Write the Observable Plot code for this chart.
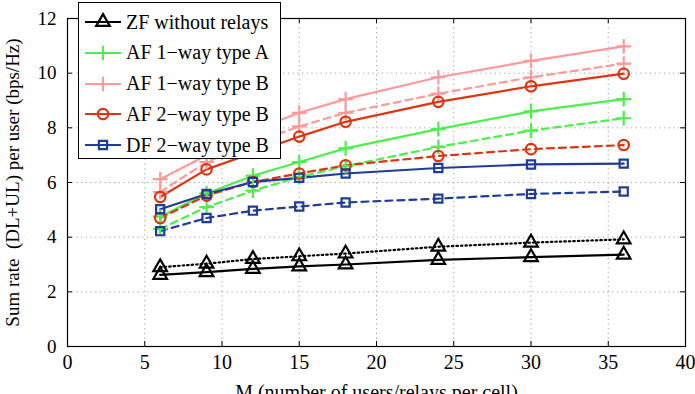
<!DOCTYPE html>
<html>
<head>
<meta charset="utf-8">
<script src="https://cdn.jsdelivr.net/npm/d3@7"></script>
<script src="https://cdn.jsdelivr.net/npm/@observablehq/plot@0.6"></script>
<style>
  html, body { margin: 0; padding: 0; background: #fff; }
  #wrap { position: relative; width: 695px; height: 394px; overflow: hidden; }
  #chart svg, #chart svg * { font-family: "Liberation Serif", "Times New Roman", serif !important; font-variant: normal !important; }
  #chart svg { font-size: 20px; }
  #legend { position: absolute; left: 78px; top: 2px; width: 203px; height: 157px; box-sizing: border-box;
    border: 1.3px solid #000; background: #fff; font-family: "Liberation Serif", "Times New Roman", serif; font-size: 20px; }
  .row { position: absolute; left: 0; height: 30px; display: flex; align-items: center; white-space: nowrap; }
  .row svg { margin-left: 6px; margin-right: 5px; }
</style>
</head>
<body>
<div id="wrap"><div id="chart"></div><div id="legend"></div></div>
<script>
// ---- data ----
const M = [6, 9, 12, 15, 18, 24, 30, 36];
const zfSolid   = [2.62, 2.72, 2.84, 2.93, 3.00, 3.17, 3.27, 3.36];
const zfDotted  = [2.90, 3.03, 3.20, 3.30, 3.40, 3.65, 3.80, 3.92];
const af1aSolid = [4.75, 5.60, 6.25, 6.75, 7.25, 7.95, 8.60, 9.05];
const af1aDash  = [4.30, 5.10, 5.70, 6.20, 6.60, 7.30, 7.90, 8.35];
const af1bSolid = [6.12, 7.00, 7.90, 8.55, 9.05, 9.85, 10.45, 10.98];
const af1bDash  = [5.65, 6.75, 7.45, 8.05, 8.55, 9.25, 9.85, 10.35];
const af2Solid  = [5.47, 6.48, 7.08, 7.68, 8.22, 8.95, 9.52, 9.98];
const af2Dash   = [4.70, 5.52, 6.02, 6.33, 6.63, 6.97, 7.22, 7.37];
const dfSolid   = [5.02, 5.58, 6.02, 6.17, 6.33, 6.53, 6.66, 6.69];
const dfDash    = [4.22, 4.70, 4.97, 5.12, 5.27, 5.41, 5.58, 5.67];

const xTicks = [0, 5, 10, 15, 20, 25, 30, 35, 40];
const yTicks = [0, 2, 4, 6, 8, 10, 12];
const seriesNames = ["ZF without relays", "AF 1\u2212way type A", "AF 1\u2212way type B", "AF 2\u2212way type B", "DF 2\u2212way type B"];
const xLabel = "M (number of users/relays per cell)";
const yLabel = "Sum rate  (DL+UL) per user (bps/Hz)";

// ---- styles ----
const colors = ["#000000", "#4cf04c", "#ff9a9a", "#dd3412", "#1f3c9c"];
const symbols = ["triangle2", "plus", "plus", "circle", "square2"];
const radii = [6.5, 4.8, 4.8, 5.2, 5.2];

const series = [
  {i: 0, v: zfSolid, dash: null}, {i: 0, v: zfDotted, dash: "1.5,3"},
  {i: 1, v: af1aSolid, dash: null}, {i: 1, v: af1aDash, dash: "7,5"},
  {i: 2, v: af1bSolid, dash: null}, {i: 2, v: af1bDash, dash: "7,5"},
  {i: 3, v: af2Solid, dash: null}, {i: 3, v: af2Dash, dash: "7,5"},
  {i: 4, v: dfSolid, dash: null}, {i: 4, v: dfDash, dash: "7,5"}
];

const fontFamily = "Liberation Serif";
const marks = [
  Plot.gridX(xTicks, {stroke: "#888", strokeOpacity: 0.8, strokeDasharray: "1.2,3.5"}),
  Plot.gridY(yTicks, {stroke: "#888", strokeOpacity: 0.8, strokeDasharray: "1.2,3.5"}),
  // inward ticks (bottom/top/left/right)
  Plot.tickX(xTicks, {x: d => d, stroke: "#000", insetTop: 323}),
  Plot.tickX(xTicks, {x: d => d, stroke: "#000", insetBottom: 323}),
  Plot.tickY(yTicks, {y: d => d, stroke: "#000", insetRight: 613}),
  Plot.tickY(yTicks, {y: d => d, stroke: "#000", insetLeft: 613}),
  Plot.axisX(xTicks, {tickSize: 0, tickPadding: 8, label: xLabel, labelAnchor: "center", labelArrow: "none", labelOffset: 52,
    fontFamily, fontSize: 20, fontVariant: "normal"}),
  Plot.axisY(yTicks, {tickSize: 0, tickPadding: 11, label: yLabel, labelAnchor: "center", labelArrow: "none", labelOffset: 62,
    fontFamily, fontSize: 19, fontVariant: "normal"}),
  Plot.frame({stroke: "#000", strokeWidth: 1.2})
];
for (const s of series) {
  const data = M.map((m, k) => ({m, v: s.v[k]}));
  marks.push(Plot.line(data, {x: "m", y: "v", stroke: colors[s.i], strokeWidth: 2.2, strokeDasharray: s.dash}));
}
for (const s of series) {
  const data = M.map((m, k) => ({m, v: s.v[k]}));
  marks.push(Plot.dot(data, {x: "m", y: "v", stroke: colors[s.i], strokeWidth: 2.2, symbol: symbols[s.i], r: radii[s.i], fill: "none"}));
}

const chart = Plot.plot({
  width: 695, height: 394,
  marginLeft: 67, marginRight: 10, marginTop: 18, marginBottom: 48,
  style: "font-family: 'Liberation Serif', 'Times New Roman', serif; font-size: 20px; background: #fff; color: #000;",
  x: {domain: [0, 40]},
  y: {domain: [0, 12]},
  marks
});
document.getElementById("chart").appendChild(chart);

// ---- legend ----
const legend = document.getElementById("legend");
seriesNames.forEach((name, i) => {
  const row = document.createElement("div");
  row.className = "row";
  row.style.top = (4 + i * 30.8) + "px";
  const svg = d3.create("svg").attr("width", 36).attr("height", 20);
  svg.append("line").attr("x1", 0).attr("x2", 36).attr("y1", 10).attr("y2", 10)
    .attr("stroke", colors[i]).attr("stroke-width", 2.2);
  const symMap = {triangle2: d3.symbolTriangle2, plus: d3.symbolPlus, circle: d3.symbolCircle, square2: d3.symbolSquare2};
  svg.append("path").attr("transform", "translate(18,10)")
    .attr("d", d3.symbol(symMap[symbols[i]], Math.PI * radii[i] * radii[i])())
    .attr("fill", "none").attr("stroke", colors[i]).attr("stroke-width", 2.2);
  row.appendChild(svg.node());
  const span = document.createElement("span");
  span.textContent = name;
  row.appendChild(span);
  legend.appendChild(row);
});
</script>
</body>
</html>
